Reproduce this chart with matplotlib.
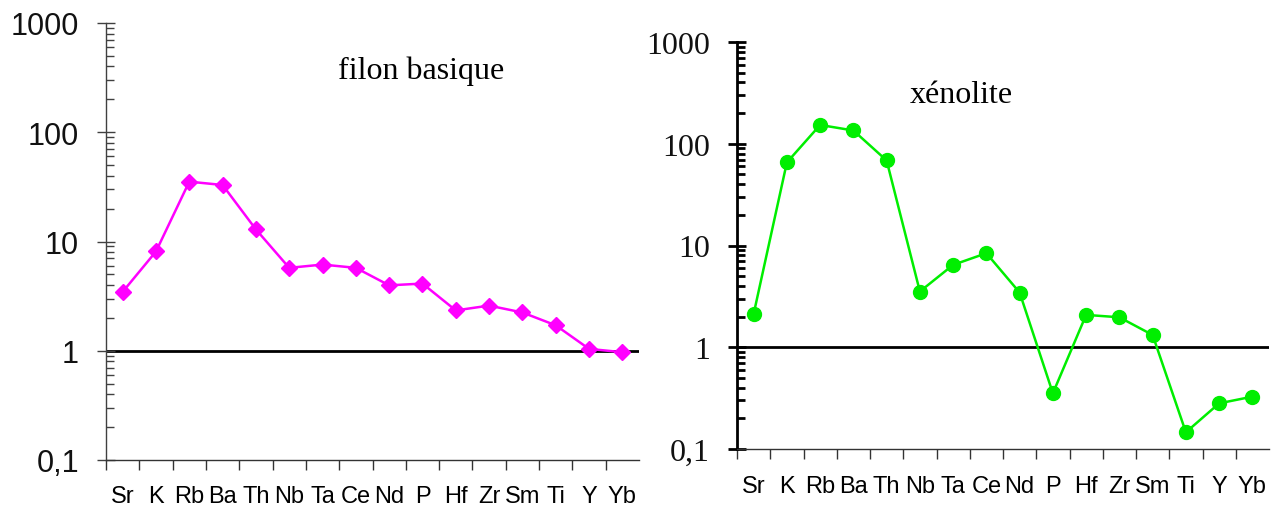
import matplotlib
matplotlib.use("Agg")
import matplotlib.pyplot as plt
from matplotlib.ticker import LogLocator, NullFormatter, FixedLocator, FixedFormatter

elements = ["Sr", "K", "Rb", "Ba", "Th", "Nb", "Ta", "Ce", "Nd", "P", "Hf", "Zr", "Sm", "Ti", "Y", "Yb"]
filon_basique = [3.46, 8.1, 35.3, 32.9, 12.9, 5.74, 6.15, 5.74, 3.97, 4.12, 2.34, 2.59, 2.24, 1.71, 1.04, 0.97]
xenolite = [2.12, 65.5, 153, 135, 68.5, 3.53, 6.45, 8.4, 3.45, 0.353, 2.08, 1.97, 1.32, 0.146, 0.281, 0.327]
ytick_values = [0.1, 1, 10, 100, 1000]
ytick_labels = ["0,1", "1", "10", "100", "1000"]

W, H = 1277, 506
fig = plt.figure(figsize=(W / 100, H / 100), dpi=100)


def px_axes(x0, y0, x1, y1):
    return fig.add_axes([x0 / W, 1 - y1 / H, (x1 - x0) / W, (y1 - y0) / H])


def style_axes(ax, yfont, yfs, spine_color, spine_lw, xpad, ypad):
    ax.set_yscale("log")
    ax.set_ylim(0.1, 1000)
    ax.set_xlim(0, len(elements))
    for s in ["top", "right"]:
        ax.spines[s].set_visible(False)
    ax.spines["left"].set_color(spine_color)
    ax.spines["left"].set_linewidth(spine_lw)
    ax.spines["bottom"].set_color("#333333")
    ax.spines["bottom"].set_linewidth(1.0)
    ax.yaxis.set_major_locator(FixedLocator(ytick_values))
    ax.yaxis.set_major_formatter(FixedFormatter(ytick_labels))
    ax.yaxis.set_minor_locator(LogLocator(base=10, subs=range(2, 10)))
    ax.yaxis.set_minor_formatter(NullFormatter())
    ax.tick_params(axis="y", which="major", direction="inout", length=13, width=spine_lw,
                   color=spine_color, pad=ypad)
    ax.tick_params(axis="y", which="minor", direction="in", length=6, width=spine_lw,
                   color=spine_color)
    for lab in ax.get_yticklabels():
        lab.set_fontfamily(yfont)
        lab.set_fontsize(yfs)
        lab.set_color("#111111")
    # x: tick marks between categories, labels at centers
    ax.set_xticks(range(len(elements)))
    ax.set_xticklabels([])
    ax.set_xticks([i + 0.5 for i in range(len(elements))], minor=True)
    ax.set_xticklabels(elements, minor=True, fontfamily="Liberation Sans", fontsize=17)
    ax.tick_params(axis="x", which="major", direction="out", length=7, width=1.0, color="#333333")
    ax.tick_params(axis="x", which="minor", length=0, pad=xpad)
    ax.axhline(1, color="black", lw=2.0, zorder=1)


x = [i + 0.5 for i in range(len(elements))]

ax1 = px_axes(106, 24, 639, 461)
style_axes(ax1, "Liberation Sans", 22, "#404040", 1.0, 18, 13)
ax1.plot(x, filon_basique, color="#ff00ff", lw=1.8, marker="D", markersize=8, zorder=3)

ax2 = px_axes(737, 43, 1269, 450)
style_axes(ax2, "Liberation Serif", 23, "black", 2.0, 19, 13)
ax2.plot(x, xenolite, color="#00ee00", lw=1.8, marker="o", markersize=10, zorder=3)

fig.text(338 / W, 1 - 79 / H, "filon basique", family="Liberation Serif", fontsize=23,
         ha="left", va="baseline")
fig.text(910 / W, 1 - 103 / H, "xénolite", family="Liberation Serif", fontsize=23,
         ha="left", va="baseline")

fig.savefig("out.png", dpi=100)
